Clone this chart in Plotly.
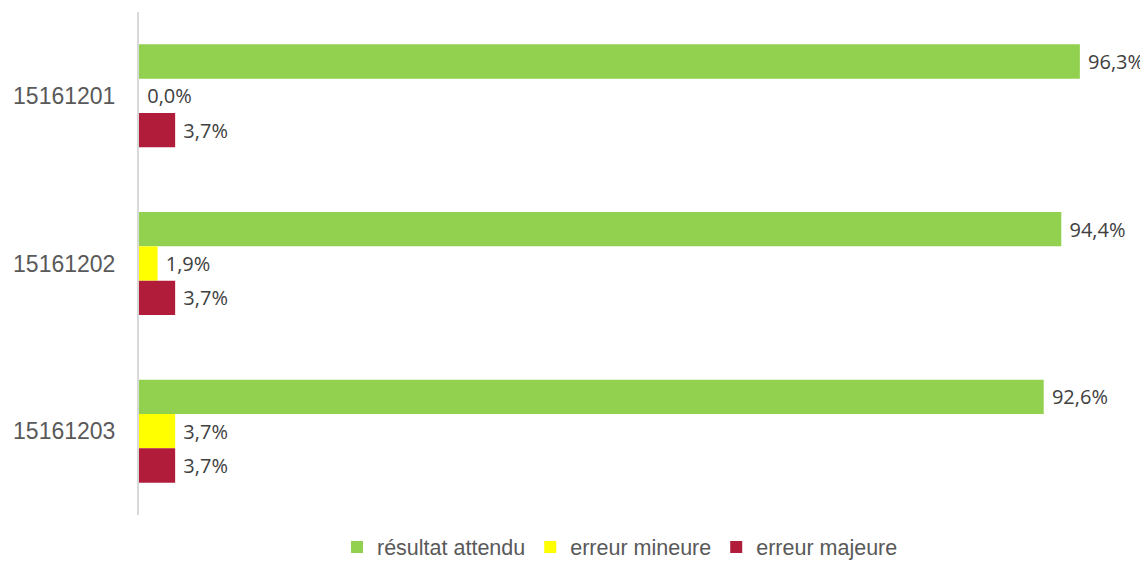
import plotly.graph_objects as go

categories = ["15161201", "15161202", "15161203"]
series_names = ["résultat attendu", "erreur mineure", "erreur majeure"]
attendu = [0.963, 0.944, 0.926]
mineure = [0.0, 0.019, 0.037]
majeure = [0.037, 0.037, 0.037]
colors = ["#92D050", "#FFFF00", "#B21C3B"]

# the page body adds an 8px margin, so the figure is 8px smaller than the window
W, H = 1140, 553

fig = go.Figure()
for name, vals, col in zip(series_names, [attendu, mineure, majeure], colors):
    fig.add_trace(go.Bar(
        y=categories, x=vals, name=name, orientation="h",
        marker=dict(color=col, line=dict(width=0)),
        texttemplate=" %{x:.1%}", textposition="outside",
        textfont=dict(family="Open Sans", size=20, color="#404040"),
        cliponaxis=False,
    ))

fig.update_layout(
    width=W, height=H,
    margin=dict(l=131, r=32, t=4, b=46, autoexpand=False),
    barmode="group", bargap=0.386, bargroupgap=0,
    separators=", ",
    plot_bgcolor="white", paper_bgcolor="white",
    showlegend=True,
    legend=dict(orientation="h", xref="container", yref="container",
                x=612 / W, xanchor="center", y=14 / H, yanchor="middle",
                font=dict(family="Liberation Sans", size=21.5, color="#595959"),
                traceorder="normal", itemwidth=30),
    xaxis=dict(range=[0, 1.0], showticklabels=False, showgrid=False,
               zeroline=False, showline=False, ticks=""),
    yaxis=dict(autorange="reversed", showline=True, linecolor="#D9D9D9",
               linewidth=2, ticks="", ticklabelstandoff=17,
               tickfont=dict(family="Liberation Sans", size=23, color="#595959"),
               showgrid=False, zeroline=False),
)

fig.write_html("out.html")
